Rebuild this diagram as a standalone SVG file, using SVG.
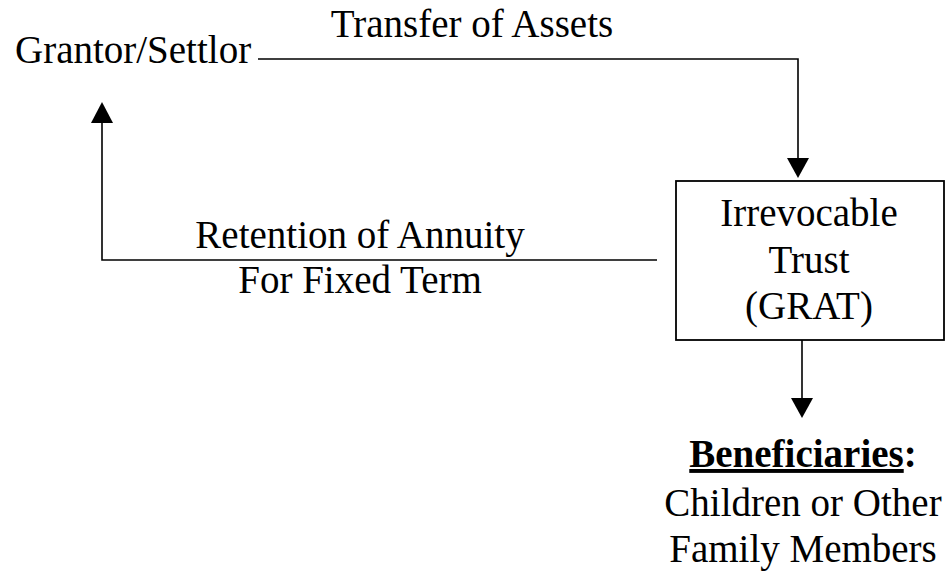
<svg xmlns="http://www.w3.org/2000/svg" width="950" height="571" viewBox="0 0 950 571">
<style>
text{font-family:"Liberation Serif","Times New Roman",serif;font-size:39px;fill:#000}
.c{text-anchor:middle}
.ln{stroke:#000;stroke-width:1.6;fill:none}
.ah{fill:#000}
</style>
<rect width="950" height="571" fill="#fff"/>
<g id="grantor"><text x="15" y="63">Grantor/Settlor</text></g>
<g id="trust">
<rect x="676" y="181" width="268" height="159" fill="#fff" stroke="#000" stroke-width="1.8"/>
<text class="c" x="809" y="226">Irrevocable</text>
<text class="c" x="809" y="273">Trust</text>
<text class="c" x="809" y="319">(GRAT)</text>
</g>
<g id="beneficiaries">
<text class="c" x="803" y="467"><tspan font-weight="bold" text-decoration="underline">Beneficiaries</tspan><tspan font-weight="bold">:</tspan></text>
<text class="c" x="803" y="516">Children or Other</text>
<text class="c" x="803" y="562">Family Members</text>
</g>
<g id="connectors">
<polyline class="ln" points="258,59 798,59 798,160"/>
<polygon class="ah" points="787,158 809,158 798,178"/>
<text class="c" x="472" y="37">Transfer of Assets</text>
<polyline class="ln" points="657,260 102,260 102,121"/>
<polygon class="ah" points="91,123 113,123 102,102"/>
<text class="c" x="360" y="248">Retention of Annuity</text>
<text class="c" x="360" y="293">For Fixed Term</text>
<line class="ln" x1="802" y1="340" x2="802" y2="400"/>
<polygon class="ah" points="791,398 813,398 802,418"/>
</g>
</svg>
